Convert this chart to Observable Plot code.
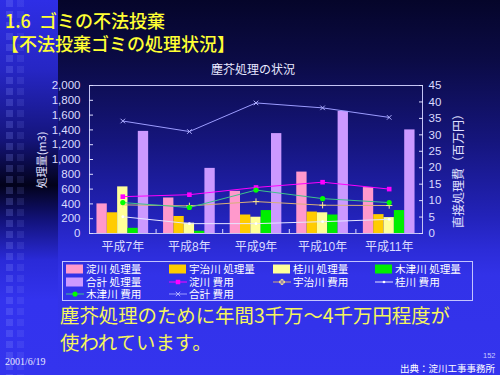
<!DOCTYPE html>
<html><head><meta charset="utf-8">
<script src="https://cdn.jsdelivr.net/npm/d3@7"></script>
<script src="https://cdn.jsdelivr.net/npm/@observablehq/plot@0.6"></script>
<style>
html,body{margin:0;padding:0;width:500px;height:375px;overflow:hidden;background:#3333ee;}
#slide{position:relative;width:500px;height:375px;overflow:hidden;
 background:linear-gradient(to bottom,#05052a 0px,#0b0b45 60px,#15157c 140px,#2222b8 215px,#2c2cd8 250px,#3232e8 275px,#3434ee 375px);
 font-family:"Liberation Sans","Noto Sans CJK JP",sans-serif;}
#strip{position:absolute;left:0;top:0;width:58px;height:375px;
 background:linear-gradient(to bottom,#2e2ee6 0px,#2626c4 70px,#14147a 140px,#02021a 185px,#12127a 220px,#2a2ad8 260px,#3333ee 300px,#3434ee 375px);}
.sq{position:absolute;top:0;width:7px;height:375px;
 background:repeating-linear-gradient(to bottom,rgba(140,150,255,0.22) 0px,rgba(140,150,255,0.22) 7px,transparent 7px,transparent 11px);}
.t{position:absolute;white-space:pre;line-height:1;}
.c{font-family:"Noto Sans CJK JP","Liberation Sans",sans-serif;}
#chart{position:absolute;left:0;top:60px;}
#legend{position:absolute;left:62px;top:261px;width:409px;height:38px;border:1px solid #c4c4ff;}
.lg{position:absolute;font-size:10.6px;color:#ffffff;font-family:"Noto Sans CJK JP",sans-serif;white-space:pre;line-height:1;transform:translateY(-50%);}
.sw{position:absolute;width:17px;height:9px;transform:translateY(-50%);}
</style></head>
<body><div id="slide">
<div id="strip"></div>
<div class="sq" style="left:6px"></div>
<div class="sq" style="left:17px;opacity:0.6"></div>
</div>
<script>
// ---- data ----
const years = ["平成7年", "平成8年", "平成9年", "平成10年", "平成11年"];
const volYodo = [400, 480, 570, 830, 620];
const volUji = [280, 230, 250, 290, 255];
const volKatsura = [630, 140, 220, 280, 215];
const volKizu = [70, 30, 310, 250, 310];
const volTotal = [1380, 880, 1350, 1650, 1400];
const costYodo = [11.2, 11.8, 14.0, 15.6, 13.5];
const costUji = [8.7, 8.4, 9.7, 8.6, 8.5];
const costKatsura = [5.1, 3.0, 3.0, 3.6, 4.3];
const costKizu = [9.4, 7.9, 13.2, 10.6, 9.4];
const costTotal = [34.2, 31.0, 39.7, 38.2, 35.3];
const leftTicks = [0, 200, 400, 600, 800, 1000, 1200, 1400, 1600, 1800, 2000];
const rightTicks = [0, 5, 10, 15, 20, 25, 30, 35, 40, 45];
const barNames = ["淀川 処理量", "宇治川 処理量", "桂川 処理量", "木津川 処理量", "合計 処理量"];
const costNames = ["淀川 費用", "宇治川 費用", "桂川 費用", "木津川 費用", "合計 費用"];
const titleLines = ["1.6  ゴミの不法投棄", "【不法投棄ゴミの処理状況】"];
const chartTitle = "塵芥処理の状況";
const leftLabel = "処理量(m3)";
const rightLabel = "直接処理費（百万円）";
const noteLines = ["塵芥処理のために年間3千万～4千万円程度が", "使われています。"];
const dateText = "2001/6/19";
const sourceText = "出典：淀川工事事務所";
const pageNo = "152";

// ---- styles ----
const barColors = ["#ff99cc", "#ffcc00", "#ffff99", "#00ee00", "#cc99ff"];
const costStyles = [
  {line: "#ff00ff", mark: "#ff00ff", symbol: "square", r: 2.6, filled: true},
  {line: "#d8b078", mark: "#ffe88a", symbol: "plus", r: 2.2, filled: false},
  {line: "#e6e6ff", mark: "#ffffff", symbol: "circle", r: 1.4, filled: true},
  {line: "#3fc48a", mark: "#00ff00", symbol: "circle", r: 2.6, filled: true},
  {line: "#9c9cff", mark: "#b0b0ff", symbol: "times", r: 2.2, filled: false}
];
const volSeries = [volYodo, volUji, volKatsura, volKizu, volTotal];
const costSeries = [costYodo, costUji, costKatsura, costKizu, costTotal];

const K = 2000 / 45; // right-axis unit -> left-axis unit
const pad = 0.112, bw = (1 - 2 * pad) / volSeries.length;

const marks = [];
volSeries.forEach((vals, s) => {
  marks.push(Plot.rectY(vals.map((v, i) => ({i, v})), {
    x1: d => d.i + pad + s * bw, x2: d => d.i + pad + (s + 1) * bw,
    y1: 0, y2: "v", fill: barColors[s]
  }));
});
marks.push(Plot.frame({stroke: "#c4c4f4", strokeWidth: 1}));
costSeries.forEach((vals, s) => {
  const st = costStyles[s];
  const data = vals.map((v, i) => ({x: i + 0.5, v}));
  marks.push(Plot.line(data, {x: "x", y: d => d.v * K, stroke: st.line, strokeWidth: 1}));
  marks.push(Plot.dot(data, st.filled
    ? {x: "x", y: d => d.v * K, symbol: st.symbol, r: st.r, fill: st.mark, stroke: "none"}
    : {x: "x", y: d => d.v * K, symbol: st.symbol, r: st.r, fill: "none", stroke: st.mark, strokeWidth: 1}));
});
// axes
marks.push(Plot.axisY(leftTicks, {anchor: "left", tickSize: 0, tickPadding: 9, tickFormat: d3.format(","), label: null}));
marks.push(Plot.axisY(leftTicks, {anchor: "left", tickSize: 4, tickFormat: () => "", dx: 4, label: null}));
marks.push(Plot.axisY(rightTicks.map(v => v * K), {anchor: "right", tickSize: 0, tickPadding: 6, tickFormat: v => String(Math.round(v / K)), label: null}));
marks.push(Plot.axisY(rightTicks.map(v => v * K), {anchor: "right", tickSize: 4, tickFormat: () => "", dx: -4, label: null}));
marks.push(Plot.axisX(years.map((_, i) => i + 0.5), {anchor: "bottom", tickSize: 0, tickPadding: 9, tickFormat: d => years[Math.floor(d)], label: null, fontSize: 12}));
marks.push(Plot.axisX(d3.range(1, years.length), {anchor: "bottom", tickSize: 4, tickFormat: () => "", dy: -4, label: null}));

const chart = Plot.plot({
  width: 500, height: 200,
  marginLeft: 89, marginRight: 78, marginTop: 25, marginBottom: 27,
  x: {type: "linear", domain: [0, years.length]},
  y: {domain: [0, 2000]},
  style: {background: "transparent", color: "#dcdcff", fontSize: "11.5px",
          fontFamily: "'Liberation Sans','Noto Sans CJK JP',sans-serif", overflow: "visible"},
  marks
});
chart.id = "chart";
const slide = document.getElementById("slide");
slide.appendChild(chart);

// ---- texts ----
function addText(txt, css, cls) {
  const d = document.createElement("div");
  d.className = "t " + (cls || "");
  d.textContent = txt;
  d.setAttribute("style", css);
  slide.appendChild(d);
  return d;
}
addText(titleLines[0], "left:5px;top:20px;transform:translateY(-50%);font-size:18px;color:#ffff33;font-weight:500;", "c");
addText(titleLines[1], "left:1px;top:43px;transform:translateY(-50%);font-size:18px;color:#ffff33;font-weight:500;", "c");
addText(chartTitle, "left:253px;top:69px;transform:translate(-50%,-50%);font-size:12px;color:#e8e8ff;", "c");
addText(leftLabel, "left:41px;top:160px;transform:translate(-50%,-50%) rotate(-90deg);font-size:11px;color:#e0e0ff;", "c");
addText(rightLabel, "left:458px;top:168px;transform:translate(-50%,-50%) rotate(-90deg);font-size:12px;color:#e0e0ff;", "c");
addText(noteLines[0], "left:60px;top:315px;transform:translateY(-50%);font-size:19.4px;color:#f6f65c;", "c");
addText(noteLines[1], "left:60px;top:342px;transform:translateY(-50%);font-size:19.4px;color:#f6f65c;", "c");
addText(dateText, "left:5px;top:362px;transform:translateY(-50%);font-size:10px;color:#e8e8ff;font-family:'Liberation Serif',serif;");
addText(pageNo, "left:483px;top:356px;transform:translateY(-50%);font-size:7.5px;color:#c8c8ff;");
addText(sourceText, "right:5px;top:369px;transform:translateY(-50%);font-size:9.5px;color:#ffffff;", "c");

// ---- legend ----
const legend = document.createElement("div");
legend.id = "legend";
slide.appendChild(legend);
const colX = [3, 106, 210, 312];      // swatch left (relative to legend)
const rowY = [7, 19.5, 32];            // row centers
const items = [];
barNames.forEach((n, s) => items.push({name: n, kind: "bar", s}));
costNames.forEach((n, s) => items.push({name: n, kind: "line", s}));
items.forEach((it, idx) => {
  const row = Math.floor(idx / 4), col = idx % 4;
  const x = colX[col], y = rowY[row];
  if (it.kind === "bar") {
    const sw = document.createElement("div");
    sw.className = "sw";
    sw.style.left = x + "px"; sw.style.top = y + "px";
    sw.style.background = barColors[it.s];
    legend.appendChild(sw);
  } else {
    const st = costStyles[it.s];
    const ns = "http://www.w3.org/2000/svg";
    const svg = document.createElementNS(ns, "svg");
    svg.setAttribute("width", 18); svg.setAttribute("height", 8);
    svg.setAttribute("style", `position:absolute;left:${x}px;top:${y - 4}px;overflow:visible`);
    const ln = document.createElementNS(ns, "line");
    ln.setAttribute("x1", 0); ln.setAttribute("x2", 18); ln.setAttribute("y1", 4); ln.setAttribute("y2", 4);
    ln.setAttribute("stroke", st.line); ln.setAttribute("stroke-width", 1);
    svg.appendChild(ln);
    const sym = d3.symbol().type({square: d3.symbolSquare, circle: d3.symbolCircle, plus: d3.symbolCross, times: d3.symbolTimes}[st.symbol]).size(st.r * st.r * 3)();
    const p = document.createElementNS(ns, "path");
    p.setAttribute("d", sym); p.setAttribute("transform", "translate(9,4)");
    if (st.filled) { p.setAttribute("fill", st.mark); }
    else { p.setAttribute("fill", "none"); p.setAttribute("stroke", st.mark); }
    svg.appendChild(p);
    legend.appendChild(svg);
  }
  const tx = document.createElement("div");
  tx.className = "lg";
  tx.textContent = it.name;
  tx.style.left = (x + 20) + "px"; tx.style.top = y + "px";
  legend.appendChild(tx);
});
</script>
</body></html>
